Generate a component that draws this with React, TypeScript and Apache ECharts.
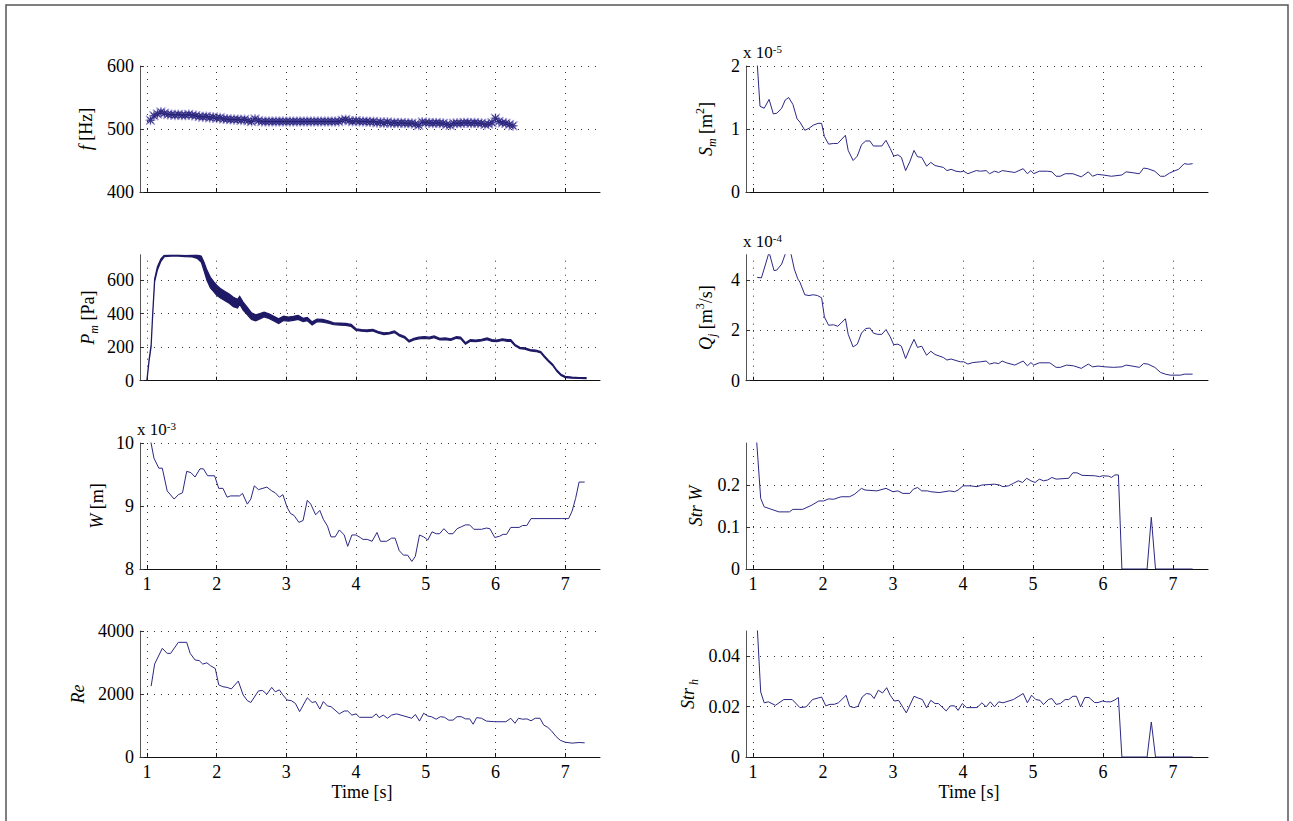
import React, { useEffect, useRef } from 'react';
import * as echarts from 'echarts';

// ---------------- data ----------------
const X_TICKS = [1, 2, 3, 4, 5, 6, 7];

// f [Hz] (asterisk markers)
const F_DATA = [
  [1.05, 514], [1.10, 521], [1.15, 524], [1.20, 527], [1.25, 525], [1.30, 523], [1.35, 523], [1.40, 522],
  [1.45, 523], [1.50, 522], [1.55, 522], [1.60, 523], [1.65, 522], [1.70, 521], [1.75, 520], [1.80, 519],
  [1.85, 520], [1.90, 518], [1.95, 519], [2.00, 517], [2.05, 518], [2.10, 516], [2.15, 516], [2.20, 515],
  [2.25, 515], [2.30, 515], [2.35, 514], [2.40, 515], [2.45, 513], [2.50, 512], [2.55, 516], [2.60, 513],
  [2.65, 512], [2.70, 512], [2.75, 512], [2.80, 512], [2.85, 512], [2.90, 512], [2.95, 512], [3.00, 512],
  [3.05, 512], [3.10, 512], [3.15, 512], [3.20, 512], [3.25, 512], [3.30, 512], [3.35, 512], [3.40, 512],
  [3.45, 512], [3.50, 512], [3.55, 512], [3.60, 512], [3.65, 512], [3.70, 512], [3.75, 512], [3.80, 514],
  [3.85, 515], [3.90, 513], [3.95, 512], [4.00, 513], [4.05, 512], [4.10, 512], [4.15, 512], [4.20, 511],
  [4.25, 512], [4.30, 510], [4.35, 511], [4.40, 509], [4.45, 511], [4.50, 509], [4.55, 510], [4.60, 509],
  [4.65, 510], [4.70, 509], [4.75, 509], [4.80, 509], [4.85, 508], [4.90, 506], [4.95, 511], [5.00, 510],
  [5.05, 510], [5.10, 509], [5.15, 510], [5.20, 509], [5.25, 509], [5.30, 507], [5.35, 506], [5.40, 509],
  [5.45, 509], [5.50, 509], [5.55, 510], [5.60, 510], [5.65, 509], [5.70, 510], [5.75, 509], [5.80, 509],
  [5.85, 507], [5.90, 508], [5.95, 510], [6.00, 517], [6.05, 512], [6.10, 510], [6.15, 509], [6.20, 507],
  [6.25, 505],
];

// P_m [Pa] : lower / upper envelope of the dense oscillating signal
const P_TIME = [
  1.00, 1.03, 1.06, 1.08, 1.11, 1.15, 1.20, 1.25, 1.35, 1.45, 1.55, 1.65, 1.72, 1.78, 1.82, 1.86, 1.91, 1.96,
  2.00, 2.06, 2.12, 2.18, 2.24, 2.30, 2.33, 2.38, 2.44, 2.50, 2.56, 2.62, 2.68, 2.75, 2.82, 2.89, 2.96, 3.03,
  3.10, 3.17, 3.24, 3.30, 3.37, 3.44, 3.52, 3.60, 3.68, 3.77, 3.85, 3.93, 4.00, 4.08, 4.16, 4.24, 4.32, 4.40,
  4.48, 4.55, 4.62, 4.70, 4.76, 4.83, 4.90, 4.98, 5.05, 5.12, 5.20, 5.28, 5.36, 5.44, 5.50, 5.57, 5.64, 5.72,
  5.80, 5.88, 5.95, 6.02, 6.10, 6.17, 6.22, 6.28, 6.35, 6.42, 6.50, 6.58, 6.65, 6.70, 6.76, 6.82, 6.88, 6.94,
  7.00, 7.10, 7.20, 7.30,
];
const P_LOWER = [
  2, 116, 205, 374, 592, 660, 712, 740, 744, 744, 740, 739, 730, 707, 655, 600, 553, 530,
  510, 492, 477, 462, 442, 434, 456, 421, 393, 365, 357, 369, 381, 371, 356, 341, 359, 356,
  360, 366, 352, 358, 333, 352, 350, 343, 334, 332, 330, 324, 300, 295, 293, 297, 283, 275,
  279, 287, 267, 253, 230, 243, 250, 253, 250, 257, 243, 245, 240, 253, 250, 217, 235, 233,
  237, 245, 235, 233, 240, 235, 235, 208, 191, 188, 178, 174, 166, 141, 114, 91, 56, 31,
  18, 15, 13, 12,
];
const P_UPPER = [
  8, 124, 215, 386, 608, 680, 728, 750, 752, 752, 748, 751, 752, 743, 705, 660, 617, 590,
  570, 548, 533, 518, 498, 486, 504, 469, 437, 405, 393, 401, 409, 399, 384, 369, 385, 380,
  384, 390, 372, 378, 351, 368, 366, 357, 346, 344, 342, 336, 310, 305, 303, 307, 293, 285,
  289, 297, 277, 263, 240, 253, 260, 263, 260, 267, 253, 255, 250, 263, 260, 227, 245, 243,
  247, 255, 245, 243, 250, 245, 245, 216, 199, 196, 186, 182, 174, 149, 122, 99, 64, 39,
  26, 21, 19, 18,
];

// W [m] (x 1e-3)
const W_DATA = [
  [1.05, 10.05], [1.10, 9.76], [1.17, 9.60], [1.22, 9.60], [1.29, 9.24], [1.39, 9.11], [1.45, 9.18], [1.51, 9.21],
  [1.57, 9.55], [1.63, 9.53], [1.69, 9.46], [1.76, 9.59], [1.81, 9.59], [1.87, 9.48], [1.97, 9.48], [2.03, 9.28],
  [2.09, 9.28], [2.15, 9.14], [2.20, 9.16], [2.33, 9.16], [2.37, 9.20], [2.44, 9.03], [2.49, 9.11], [2.54, 9.32],
  [2.60, 9.26], [2.72, 9.30], [2.79, 9.24], [2.84, 9.21], [2.90, 9.14], [2.95, 9.18], [3.01, 8.98], [3.06, 8.88],
  [3.11, 8.85], [3.18, 8.74], [3.24, 8.77], [3.30, 9.09], [3.35, 9.03], [3.42, 8.86], [3.48, 8.93], [3.53, 8.79],
  [3.59, 8.68], [3.64, 8.51], [3.70, 8.51], [3.76, 8.62], [3.83, 8.54], [3.88, 8.36], [3.94, 8.54], [4.00, 8.54],
  [4.06, 8.50], [4.10, 8.47], [4.16, 8.47], [4.23, 8.44], [4.30, 8.58], [4.35, 8.44], [4.44, 8.44], [4.51, 8.49],
  [4.56, 8.49], [4.62, 8.29], [4.68, 8.22], [4.74, 8.22], [4.80, 8.12], [4.85, 8.20], [4.91, 8.54], [4.97, 8.51],
  [5.03, 8.46], [5.09, 8.59], [5.15, 8.56], [5.20, 8.56], [5.26, 8.64], [5.33, 8.56], [5.39, 8.56], [5.45, 8.64],
  [5.51, 8.67], [5.57, 8.70], [5.63, 8.70], [5.69, 8.63], [5.80, 8.63], [5.87, 8.65], [5.92, 8.64], [5.99, 8.50],
  [6.06, 8.52], [6.11, 8.55], [6.16, 8.55], [6.22, 8.66], [6.34, 8.66], [6.39, 8.69], [6.45, 8.69], [6.51, 8.80],
  [6.95, 8.80], [7.05, 8.80], [7.10, 8.92], [7.15, 9.12], [7.20, 9.38], [7.28, 9.38],
];

// Re
const RE_DATA = [
  [1.06, 2250], [1.11, 2950], [1.22, 3450], [1.29, 3290], [1.34, 3290], [1.45, 3640], [1.57, 3640], [1.62, 3290],
  [1.69, 3080], [1.75, 3060], [1.80, 2950], [1.86, 2990], [1.91, 2900], [1.98, 2810], [2.03, 2290], [2.09, 2230],
  [2.15, 2210], [2.21, 2160], [2.31, 2410], [2.38, 1970], [2.44, 1790], [2.49, 1730], [2.60, 2100], [2.66, 2110],
  [2.72, 1990], [2.79, 2210], [2.84, 2070], [2.90, 2130], [2.95, 1970], [3.01, 1810], [3.07, 1790], [3.13, 1700],
  [3.19, 1440], [3.30, 1880], [3.37, 1730], [3.42, 1760], [3.48, 1520], [3.53, 1760], [3.59, 1620], [3.64, 1600],
  [3.76, 1370], [3.83, 1460], [3.88, 1460], [3.94, 1330], [4.00, 1370], [4.05, 1260], [4.23, 1260], [4.29, 1370],
  [4.33, 1250], [4.39, 1330], [4.45, 1230], [4.51, 1330], [4.58, 1370], [4.80, 1230], [4.85, 1350], [4.91, 1140],
  [4.97, 1390], [5.03, 1300], [5.08, 1280], [5.15, 1200], [5.21, 1280], [5.27, 1260], [5.33, 1170], [5.39, 1170],
  [5.45, 1280], [5.51, 1280], [5.57, 1210], [5.63, 1210], [5.68, 1040], [5.73, 1250], [5.80, 1230], [5.87, 1140],
  [5.99, 1120], [6.15, 1120], [6.22, 1230], [6.28, 1070], [6.33, 1230], [6.39, 1200], [6.45, 1210], [6.51, 1150],
  [6.57, 1230], [6.64, 1230], [6.69, 1020], [6.75, 940], [6.80, 840], [6.87, 650], [6.93, 530], [7.00, 470],
  [7.10, 440], [7.20, 460], [7.28, 450],
];

// S_m [m^2] (x 1e-5)
const SM_DATA = [
  [1.06, 2.05], [1.10, 1.36], [1.16, 1.33], [1.23, 1.47], [1.29, 1.24], [1.34, 1.25], [1.41, 1.33], [1.46, 1.46],
  [1.51, 1.50], [1.57, 1.39], [1.63, 1.16], [1.67, 1.11], [1.74, 0.98], [1.80, 1.01], [1.86, 1.06], [1.93, 1.09],
  [1.98, 1.09], [2.02, 0.88], [2.08, 0.76], [2.15, 0.77], [2.21, 0.77], [2.32, 0.90], [2.36, 0.66], [2.43, 0.50],
  [2.49, 0.57], [2.55, 0.75], [2.61, 0.81], [2.67, 0.81], [2.72, 0.73], [2.84, 0.73], [2.90, 0.82], [2.96, 0.69],
  [3.01, 0.57], [3.07, 0.59], [3.12, 0.55], [3.18, 0.34], [3.24, 0.48], [3.30, 0.66], [3.35, 0.56], [3.41, 0.55],
  [3.48, 0.41], [3.54, 0.47], [3.60, 0.42], [3.72, 0.39], [3.77, 0.34], [3.83, 0.36], [3.90, 0.33], [3.96, 0.32],
  [4.01, 0.33], [4.07, 0.29], [4.14, 0.32], [4.19, 0.34], [4.25, 0.33], [4.33, 0.34], [4.38, 0.29], [4.45, 0.33],
  [4.51, 0.31], [4.56, 0.34], [4.62, 0.33], [4.74, 0.31], [4.86, 0.37], [4.92, 0.29], [4.97, 0.34], [5.01, 0.29],
  [5.09, 0.33], [5.21, 0.33], [5.27, 0.32], [5.33, 0.25], [5.39, 0.25], [5.46, 0.29], [5.57, 0.29], [5.69, 0.24],
  [5.79, 0.32], [5.85, 0.25], [5.92, 0.28], [6.00, 0.27], [6.12, 0.25], [6.27, 0.27], [6.33, 0.32], [6.40, 0.31],
  [6.52, 0.29], [6.58, 0.38], [6.64, 0.37], [6.74, 0.33], [6.82, 0.25], [6.88, 0.25], [6.95, 0.30], [7.03, 0.34],
  [7.08, 0.36], [7.16, 0.45], [7.22, 0.44], [7.28, 0.45],
];

// Q_j [m^3/s] (x 1e-4)
const QJ_DATA = [
  [1.06, 4.10], [1.12, 4.08], [1.18, 4.63], [1.23, 5.10], [1.30, 4.37], [1.34, 4.39], [1.41, 4.63], [1.47, 5.10],
  [1.53, 5.20], [1.59, 4.43], [1.64, 4.04], [1.67, 3.91], [1.74, 3.41], [1.80, 3.38], [1.86, 3.41], [1.92, 3.38],
  [1.98, 3.29], [2.02, 2.53], [2.08, 2.20], [2.15, 2.22], [2.21, 2.16], [2.26, 2.29], [2.32, 2.46], [2.36, 1.84],
  [2.43, 1.34], [2.49, 1.45], [2.55, 1.89], [2.61, 2.07], [2.67, 2.09], [2.72, 1.89], [2.78, 1.84], [2.84, 1.84],
  [2.90, 2.03], [2.96, 1.74], [3.01, 1.43], [3.07, 1.45], [3.12, 1.37], [3.18, 0.88], [3.24, 1.28], [3.30, 1.64],
  [3.35, 1.32], [3.41, 1.37], [3.48, 1.01], [3.54, 1.17], [3.60, 1.04], [3.72, 0.92], [3.77, 0.82], [3.83, 0.86],
  [3.96, 0.75], [4.01, 0.75], [4.07, 0.66], [4.14, 0.72], [4.25, 0.75], [4.33, 0.78], [4.38, 0.66], [4.45, 0.71],
  [4.51, 0.68], [4.56, 0.78], [4.62, 0.71], [4.74, 0.62], [4.86, 0.78], [4.92, 0.59], [4.97, 0.72], [5.01, 0.62],
  [5.09, 0.71], [5.24, 0.71], [5.33, 0.53], [5.39, 0.53], [5.48, 0.62], [5.58, 0.59], [5.69, 0.49], [5.79, 0.66],
  [5.85, 0.55], [5.93, 0.58], [6.03, 0.55], [6.15, 0.53], [6.27, 0.55], [6.33, 0.62], [6.40, 0.59], [6.52, 0.53],
  [6.58, 0.68], [6.64, 0.66], [6.74, 0.53], [6.82, 0.33], [6.89, 0.26], [6.96, 0.22], [7.11, 0.22], [7.16, 0.26],
  [7.28, 0.26],
];

// Str W
const STRW_DATA = [
  [1.05, 0.31], [1.11, 0.168], [1.16, 0.148], [1.23, 0.144], [1.37, 0.136], [1.52, 0.136], [1.57, 0.142],
  [1.71, 0.142], [1.84, 0.152], [1.94, 0.162], [2.01, 0.162], [2.08, 0.167], [2.15, 0.166], [2.26, 0.172],
  [2.38, 0.172], [2.45, 0.178], [2.55, 0.192], [2.60, 0.188], [2.77, 0.186], [2.90, 0.192], [3.00, 0.184],
  [3.07, 0.186], [3.14, 0.180], [3.24, 0.180], [3.29, 0.190], [3.35, 0.194], [3.41, 0.186], [3.49, 0.186],
  [3.54, 0.184], [3.66, 0.182], [3.81, 0.186], [3.88, 0.184], [3.93, 0.188], [4.00, 0.198], [4.10, 0.198],
  [4.20, 0.196], [4.27, 0.200], [4.45, 0.202], [4.52, 0.200], [4.57, 0.196], [4.65, 0.198], [4.72, 0.204],
  [4.79, 0.210], [4.85, 0.206], [4.91, 0.216], [4.97, 0.210], [5.03, 0.206], [5.09, 0.214], [5.15, 0.210],
  [5.21, 0.212], [5.27, 0.218], [5.33, 0.214], [5.51, 0.216], [5.57, 0.229], [5.63, 0.229], [5.70, 0.223],
  [5.88, 0.222], [5.95, 0.220], [6.00, 0.222], [6.08, 0.221], [6.12, 0.218], [6.17, 0.224], [6.22, 0.224],
  [6.27, 0], [6.63, 0], [6.69, 0.123], [6.75, 0], [7.28, 0],
];

// Str_h
const STRH_DATA = [
  [1.06, 0.052], [1.11, 0.0258], [1.16, 0.0215], [1.22, 0.0219], [1.32, 0.0205], [1.44, 0.0228], [1.56, 0.0228],
  [1.67, 0.0196], [1.76, 0.0199], [1.85, 0.0228], [1.98, 0.0238], [2.04, 0.0203], [2.10, 0.0209], [2.16, 0.0209],
  [2.22, 0.0215], [2.33, 0.0245], [2.38, 0.0201], [2.44, 0.0196], [2.50, 0.0201], [2.56, 0.0238], [2.62, 0.0252],
  [2.68, 0.0249], [2.73, 0.0232], [2.79, 0.0265], [2.85, 0.0254], [2.91, 0.0275], [2.96, 0.0245], [3.02, 0.0222],
  [3.08, 0.0225], [3.19, 0.0175], [3.30, 0.0241], [3.36, 0.0234], [3.42, 0.0228], [3.48, 0.0195], [3.54, 0.0225],
  [3.60, 0.0212], [3.65, 0.0212], [3.76, 0.0183], [3.82, 0.0203], [3.88, 0.0203], [3.93, 0.0185], [3.99, 0.0212],
  [4.05, 0.0196], [4.20, 0.0196], [4.27, 0.0215], [4.33, 0.0199], [4.39, 0.0219], [4.45, 0.0199], [4.51, 0.0219],
  [4.57, 0.0215], [4.72, 0.0228], [4.86, 0.0252], [4.92, 0.0215], [4.98, 0.0245], [5.04, 0.0228], [5.10, 0.0225],
  [5.15, 0.0208], [5.22, 0.0228], [5.27, 0.0232], [5.33, 0.0209], [5.39, 0.0212], [5.46, 0.0228], [5.51, 0.0228],
  [5.57, 0.0241], [5.62, 0.0241], [5.68, 0.0199], [5.74, 0.0236], [5.80, 0.0236], [5.88, 0.0216], [5.93, 0.0216],
  [5.99, 0.0222], [6.05, 0.0219], [6.11, 0.0219], [6.16, 0.0225], [6.22, 0.0236], [6.27, 0], [6.63, 0],
  [6.69, 0.0139], [6.75, 0], [7.28, 0],
];

// ---------------- styling / layout ----------------
const FONT = 'Liberation Serif';
const FS = 18;
const LINE_COLOR = '#2b2884';
const BAND_COLOR = '#1f1a66';
const GRID_COLOR = '#333333';
const COL_LEFT = [140, 746];
const COL_WIDTH = [460, 462];
const ROW_TOP = [66, 254.7, 443, 631];
const ROW_HEIGHT = 126;

const RICH = {
  i: { fontFamily: FONT, fontSize: FS, fontStyle: 'italic', color: '#000', lineHeight: 24 },
  n: { fontFamily: FONT, fontSize: FS, color: '#000', lineHeight: 24 },
  sub: { fontFamily: FONT, fontSize: 12, fontStyle: 'italic', color: '#000', lineHeight: 12, verticalAlign: 'bottom' },
  sup: { fontFamily: FONT, fontSize: 12, color: '#000', lineHeight: 12, verticalAlign: 'top' },
};

const PANELS = [
  { col: 0, row: 0, yMin: 400, yMax: 600, yInt: 100, name: '{i|f} {n|[Hz]}', gap: 42, exact: true },
  { col: 0, row: 1, yMin: 0, yMax: 752, yInt: 200, name: '{i|P}{sub|m} {n|[Pa]}', gap: 40, exact: false },
  { col: 0, row: 2, yMin: 8, yMax: 10, yInt: 1, name: '{i|W} {n|[m]}', gap: 31, exact: true },
  { col: 0, row: 3, yMin: 0, yMax: 4000, yInt: 2000, name: '{i|Re}', gap: 50, exact: true },
  { col: 1, row: 0, yMin: 0, yMax: 2, yInt: 1, name: '{i|S}{sub|m} {n|[m}{sup|2}{n|]}', gap: 28, exact: true },
  { col: 1, row: 1, yMin: 0, yMax: 5, yInt: 2, name: '{i|Q}{sub|j} {n|[m}{sup|3}{n|/s]}', gap: 28, exact: false },
  { col: 1, row: 2, yMin: 0, yMax: 0.3, yInt: 0.1, name: '{i|Str W}', gap: 38, exact: false },
  { col: 1, row: 3, yMin: 0, yMax: 0.05, yInt: 0.02, name: '{i|Str}{sub| h}', gap: 46, exact: false },
];

const ASTERISK =
  'path://M0.85 0h0.3v2h-0.3z M0 0.85h2v0.3h-2z M0.21 0L2 1.79L1.79 2L0 0.21z M1.79 0L2 0.21L0.21 2L0 1.79z';

const plainNumber = (v: number) => String(parseFloat(v.toFixed(6)));

function gridMarkLine() {
  return {
    silent: true,
    symbol: ['none', 'none'],
    label: { show: false },
    emphasis: { disabled: true },
    lineStyle: { type: [1, 6], color: GRID_COLOR, width: 1 },
    data: X_TICKS.map((v) => ({ xAxis: v })),
  };
}

function buildOption() {
  const grid = PANELS.map((p) => ({
    left: COL_LEFT[p.col],
    top: ROW_TOP[p.row],
    width: COL_WIDTH[p.col],
    height: ROW_HEIGHT,
    show: false,
    containLabel: false,
    outerBoundsMode: 'none',
  }));

  const xAxis = PANELS.map((p, i) => ({
    gridIndex: i,
    type: 'value',
    min: 0.9,
    max: 7.5,
    axisLine: { show: true, onZero: false, lineStyle: { color: '#111', width: 1 } },
    axisTick: { show: true, inside: true, length: 4, customValues: X_TICKS, lineStyle: { color: '#111' } },
    axisLabel: {
      show: p.row >= 2,
      customValues: X_TICKS,
      color: '#000',
      fontFamily: FONT,
      fontSize: FS,
      margin: 6,
      formatter: plainNumber,
    },
    splitLine: { show: false },
    name: p.row === 3 ? 'Time [s]' : '',
    nameLocation: 'middle',
    nameGap: 26,
    nameTextStyle: { color: '#000', fontFamily: FONT, fontSize: FS, padding: [0, 16, 0, 0] },
  }));

  const yAxis = PANELS.map((p, i) => ({
    gridIndex: i,
    type: 'value',
    min: p.yMin,
    max: p.yMax,
    interval: p.yInt,
    axisLine: { show: true, lineStyle: { color: '#555', width: 1 } },
    axisTick: { show: true, inside: true, length: 4, lineStyle: { color: '#333' } },
    axisLabel: {
      color: '#000',
      fontFamily: FONT,
      fontSize: FS,
      margin: 6,
      showMaxLabel: p.exact,
      formatter: plainNumber,
    },
    splitLine: {
      show: true,
      showMinLine: false,
      showMaxLine: p.exact,
      lineStyle: { type: [1, 6], color: GRID_COLOR, width: 1 },
    },
    name: p.name,
    nameLocation: 'middle',
    nameRotate: 90,
    nameGap: p.gap,
    nameTextStyle: { rich: RICH, fontFamily: FONT, fontSize: FS, color: '#000' },
  }));

  const lineSeries = (idx: number, data: number[][]) => ({
    type: 'line',
    xAxisIndex: idx,
    yAxisIndex: idx,
    data,
    showSymbol: false,
    clip: true,
    lineStyle: { color: LINE_COLOR, width: 1 },
    markLine: gridMarkLine(),
  });

  const series: any[] = [
    {
      type: 'scatter',
      xAxisIndex: 0,
      yAxisIndex: 0,
      data: F_DATA,
      symbol: ASTERISK,
      symbolSize: 10,
      itemStyle: { color: '#9089cf' },
      markLine: gridMarkLine(),
    },
    {
      type: 'scatter',
      xAxisIndex: 0,
      yAxisIndex: 0,
      data: F_DATA,
      symbol: ASTERISK,
      symbolSize: 7,
      itemStyle: { color: '#1f1a72' },
    },
    {
      // P_m envelope band, drawn as one polygon through the axis scales
      type: 'custom',
      xAxisIndex: 1,
      yAxisIndex: 1,
      clip: true,
      data: P_TIME.map((t, k) => [t, P_LOWER[k], P_UPPER[k]]),
      encode: { x: 0, y: [1, 2] },
      renderItem: (params: any, api: any) => {
        if (params.dataIndex !== 0) return null;
        const up = P_TIME.map((t, k) => api.coord([t, P_UPPER[k]]));
        const lo = P_TIME.map((t, k) => api.coord([t, P_LOWER[k]])).reverse();
        return {
          type: 'polygon',
          shape: { points: up.concat(lo) },
          style: { fill: BAND_COLOR, stroke: BAND_COLOR, lineWidth: 1.2 },
        };
      },
      markLine: gridMarkLine(),
    },
    lineSeries(2, W_DATA),
    lineSeries(3, RE_DATA),
    lineSeries(4, SM_DATA),
    lineSeries(5, QJ_DATA),
    lineSeries(6, STRW_DATA),
    lineSeries(7, STRH_DATA),
  ];

  const expo = (x: number, y: number, e: string) => ({
    type: 'text',
    x,
    y,
    silent: true,
    style: {
      text: `{n|x 10}{s|${e}}`,
      rich: {
        n: { fontFamily: FONT, fontSize: 17, fill: '#000', lineHeight: 19 },
        s: { fontFamily: FONT, fontSize: 11, fill: '#000', lineHeight: 11, verticalAlign: 'top' },
      },
      fill: '#000',
    },
  });

  const graphic = [
    {
      type: 'rect',
      silent: true,
      shape: { x: 6, y: 5, width: 1282, height: 840 },
      style: { fill: 'none', stroke: '#555', lineWidth: 1.5 },
    },
    expo(137, 420, '-3'),
    expo(743, 43, '-5'),
    expo(743, 232, '-4'),
  ];

  return {
    animation: false,
    backgroundColor: '#fff',
    textStyle: { fontFamily: FONT },
    grid,
    xAxis,
    yAxis,
    series,
    graphic,
  };
}

export default function App() {
  const ref = useRef<HTMLDivElement>(null);
  useEffect(() => {
    if (!ref.current) return;
    const chart = echarts.init(ref.current, null, { renderer: 'svg' });
    chart.setOption(buildOption() as any);
    return () => chart.dispose();
  }, []);
  return (
    <div
      ref={ref}
      style={{ position: 'fixed', left: 0, top: 0, width: 1293, height: 821, background: '#fff' }}
    />
  );
}
